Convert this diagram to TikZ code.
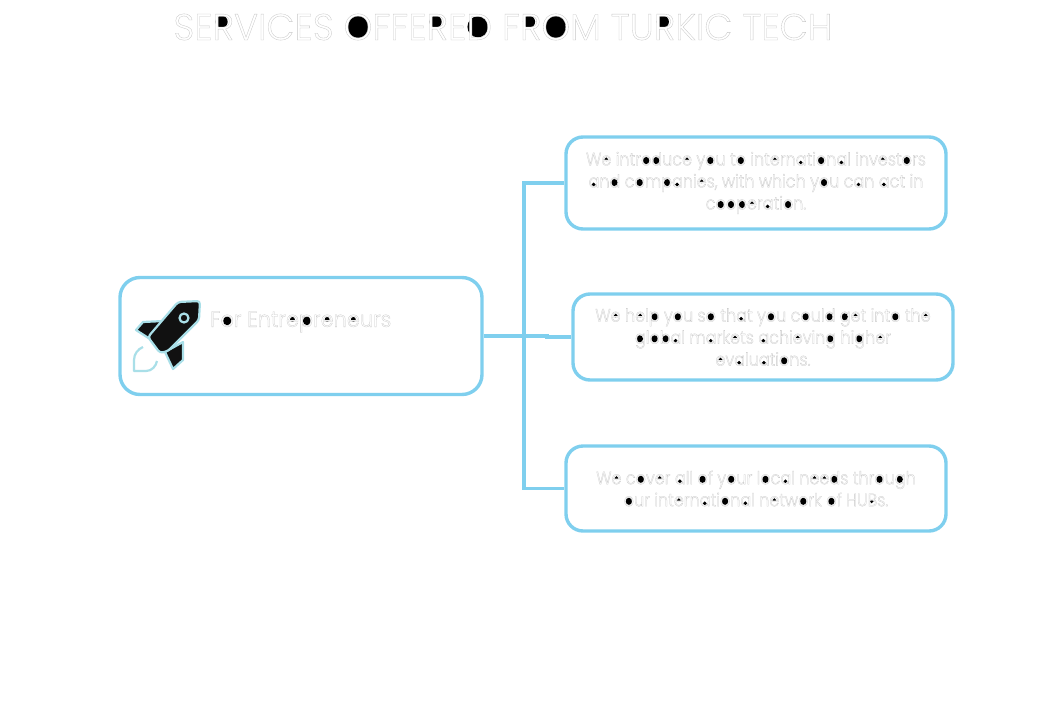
\documentclass[tikz,border=0pt]{standalone}
\usepackage{fontspec}
\setmainfont{Poppins Light}
\newfontfamily\bodyfam[FakeStretch=0.89,FakeBold=1.5]{Poppins Light}
\newfontfamily\labelfam[FakeStretch=0.95,FakeBold=1.3]{Poppins Light}
\newfontfamily\headfam[FakeStretch=0.985,FakeBold=0.9]{Poppins Light}
\definecolor{boxblue}{HTML}{7FCFEE}
\definecolor{rocketteal}{HTML}{A9DFE8}
\definecolor{rocketblack}{HTML}{111111}
\newlength\ctrw
\newlength\ctrh
% grey stroke for the outlined letters
\newcommand\outlon{\special{pdf:code 0.78 G}}
% letter with a black counter: letter, x (of width), y (of ex), radius (of ex)
\newcommand\Ctr[4]{\settowidth\ctrw{#1}\setlength\ctrh{1ex}%
\tikz[overlay,baseline=0pt,x=\ctrw,y=\ctrh]\fill[black] (#2,#3) circle [radius=#4*\ctrh];\outlon #1}
\newcommand\Co{\Ctr{o}{.5}{.5}{.36}}
\newcommand\Ce{\Ctr{e}{.5}{.62}{.2}}
\newcommand\Ca{\Ctr{a}{.46}{.3}{.2}}
\newcommand\Cd{\Ctr{d}{.42}{.5}{.36}}
\newcommand\Cb{\Ctr{b}{.58}{.5}{.36}}
\newcommand\Cp{\Ctr{p}{.58}{.5}{.36}}
\newcommand\Cg{\Ctr{g}{.42}{.5}{.36}}
\newcommand\CO{\Ctr{O}{.5}{.65}{.56}}
\newcommand\CR{\Ctr{R}{.42}{.9}{.3}}
\newcommand\CD{\Ctr{D}{.45}{.65}{.52}}
\tikzset{
  servbox/.style={draw=boxblue,line width=3.4pt,rounded corners=17pt,fill=white,inner sep=0pt,
    text=white,align=center,font=\bodyfam\fontsize{18}{22}\selectfont},
  conn/.style={draw=boxblue,line width=3.4pt},
  rocketline/.style={draw=rocketteal,line width=2.2pt,line join=round},
  bodytext/.style={text=white,inner sep=0pt,font=\labelfam\fontsize{22}{22}\selectfont},
  headtext/.style={text=white,inner sep=0pt,font=\headfam\fontsize{37}{40}\selectfont},
}
\begin{document}
\begin{tikzpicture}[x=1pt,y=-1pt]
\useasboundingbox (0,0) rectangle (1040,720);
\node[headtext] (head) at (503,27) {\outlon SE\CR VICES \CO FFE\CR E\CD{} F\CR\CO M TU\CR KIC TECH};
\node[servbox,rounded corners=20pt,minimum width=362pt,minimum height=117pt] (main) at (301,336) {};
\node[bodytext,anchor=west] (mainlabel) at (210,322) {\outlon F\Co r Entr\Ce\Cp r\Ce n\Ce urs};
\node[servbox,minimum width=380pt,minimum height=92pt] (intro) at (756,183)
  {\outlon W\Ce{} intr\Co\Cd uc\Ce{} y\Co u t\Co{} int\Ce rn\Ca ti\Co n\Ca l inv\Ce st\Co rs\\
   \Ca n\Cd{} c\Co m\Cp\Ca ni\Ce s, with which y\Co u c\Ca n \Ca ct in\\
   c\Co\Co\Cp\Ce r\Ca ti\Co n.};
\node[servbox,minimum width=380pt,minimum height=86pt] (help) at (763,337)
  {\outlon W\Ce{} h\Ce l\Cp{} y\Co u s\Co{} th\Ca t y\Co u c\Co ul\Cd{} \Cg\Ce t int\Co{} th\Ce\\
   \Cg l\Co\Cb\Ca l m\Ca rk\Ce ts \Ca chi\Ce vin\Cg{} hi\Cg h\Ce r\\
   \Ce v\Ca lu\Ca ti\Co ns.};
\node[servbox,minimum width=380pt,minimum height=85pt] (cover) at (756,488.5)
  {\outlon W\Ce{} c\Co v\Ce r \Ca ll \Co f y\Co ur l\Co c\Ca l n\Ce\Ce\Cd s thr\Co u\Cg h\\
   \Co ur int\Ce rn\Ca ti\Co n\Ca l n\Ce tw\Co rk \Co f HU\Ctr{B}{.42}{.5}{.2}s.};
\coordinate (trunk) at (524,336);
\coordinate (kink) at (547,336);
\draw[conn] (main.east) -- (kink) |- (help.west);
\draw[conn] (intro.west) -| (trunk) |- (cover.west);
% rocket
\draw[rocketline,fill=rocketblack] (143,322) -- (136,330) -- (150,339) -- (164,321) -- cycle;
\draw[rocketline,fill=rocketblack] (183,342) -- (183,360) -- (173,369) -- (165,352) -- cycle;
\draw[rocketline,fill=rocketblack,rounded corners=3pt] (200,301) -- (178,302) -- (148,337) -- (160,353) -- (168,351) -- (199,320) -- cycle;
\draw[draw=rocketteal,line width=2.2pt,fill=rocketblack] (184,318) circle (4.5);
\draw[rocketline] (143,347) .. controls (138,349) and (134,354) .. (134,360) -- (134,371) -- (146,371) .. controls (152,371) and (156,366) .. (157,361);
\end{tikzpicture}
\end{document}
